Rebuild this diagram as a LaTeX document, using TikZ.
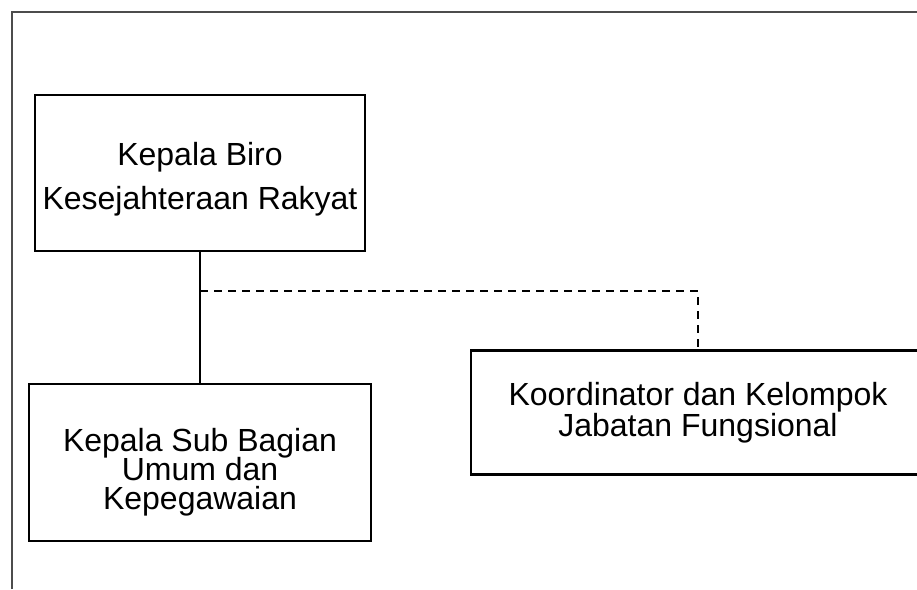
\documentclass[tikz,border=0pt]{standalone}
\usepackage{fontspec}
\setmainfont{Liberation Sans}
\newcommand{\fsA}{\fontsize{32}{44}\selectfont\lineskiplimit=-40pt\relax}
\newcommand{\fsB}{\fontsize{32}{29}\selectfont\lineskiplimit=-40pt\relax}
\newcommand{\fsC}{\fontsize{32}{31}\selectfont\lineskiplimit=-40pt\relax}
\begin{document}
\begin{tikzpicture}[x=1pt,y=-1pt,
  box/.style={draw=black, line width=2.6pt, fill=none, inner sep=0pt},
  txt/.style={align=center, inner sep=0pt, text=black},
  conn/.style={draw=black, line width=2pt},
  dconn/.style={draw=black, line width=2pt, dash pattern=on 8pt off 6pt},
  frame/.style={draw=black!70, line width=1.5pt}
]
\useasboundingbox (0,0) rectangle (917,589);
% outer frame
\coordinate (f1) at (12,589);
\coordinate (f2) at (12,12);
\coordinate (f3) at (930,12);
\draw[frame] (f1) -- (f2) -- (f3);
% boxes
\node[box, minimum width=330pt, minimum height=156pt] (b1) at (200,173) {};
\node[box, minimum width=342pt, minimum height=157pt] (b2) at (200,462.5) {};
\node[box, minimum width=454pt, minimum height=124pt] (b3) at (698,412.5) {};
% texts
\node[txt, font=\fsA] (t1) at (200,179.5) {Kepala Biro\\Kesejahteraan Rakyat};
\node[txt, font=\fsB] (t2) at (200,472) {Kepala Sub Bagian\\Umum dan\\Kepegawaian};
\node[txt, font=\fsC] (t3) at (698,413) {Koordinator dan Kelompok\\Jabatan Fungsional};
% connectors
\draw[conn] (b1.south) -- (b2.north);
\coordinate (j) at (200,291);
\draw[dconn] (j) -| (b3.north);
\end{tikzpicture}
\end{document}
